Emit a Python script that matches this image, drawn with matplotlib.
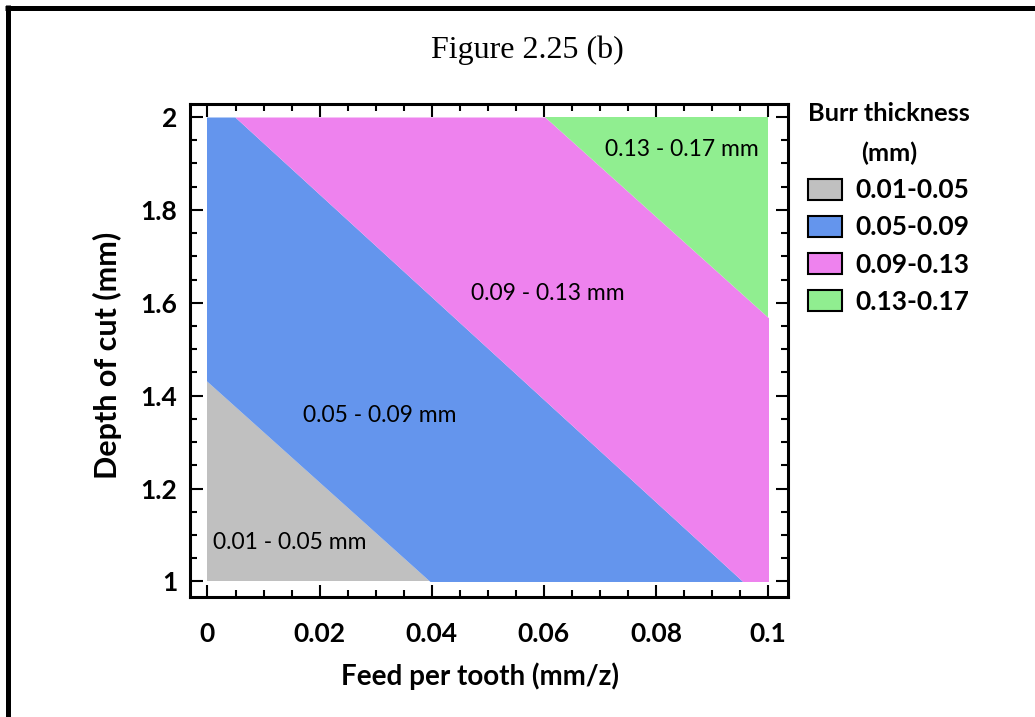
import matplotlib
matplotlib.use("Agg")
import matplotlib.pyplot as plt
from matplotlib.patches import Patch, Rectangle
from matplotlib.lines import Line2D
from matplotlib.ticker import MultipleLocator

# ---------------- data ----------------
depth_mm = [1.0, 2.0]                       # depth of cut range (y)
feed_range = [0.0, 0.1]                     # feed per tooth range (x)
# feed value where each class boundary crosses depth 1.0 and 2.0 mm
boundary_005 = [0.0397, -0.0526]
boundary_009 = [0.0955, 0.0049]
boundary_013 = [0.1525, 0.0602]
class_labels = ["0.01-0.05", "0.05-0.09", "0.09-0.13", "0.13-0.17"]
region_texts = ["0.01 - 0.05 mm", "0.05 - 0.09 mm", "0.09 - 0.13 mm", "0.13 - 0.17 mm"]
region_text_feed = [0.0147, 0.0308, 0.0607, 0.0847]
region_text_depth = [1.083, 1.358, 1.621, 1.929]
colors = ["#C0C0C0", "#6495ED", "#EE82EE", "#90EE90"]
x_ticks = [0, 0.02, 0.04, 0.06, 0.08, 0.1]
x_tick_labels = ["0", "0.02", "0.04", "0.06", "0.08", "0.1"]
y_ticks = [1, 1.2, 1.4, 1.6, 1.8, 2]
y_tick_labels = ["1", "1.2", "1.4", "1.6", "1.8", "2"]

SANS = ["Lato", "DejaVu Sans"]

fig = plt.figure(figsize=(10.35, 7.17), dpi=100)
ax = fig.add_axes([190 / 1035, 1 - 597 / 717, 598 / 1035, 493 / 717])
ax.set_xlim(-0.00312, 0.10357)
ax.set_ylim(0.9666, 2.028)

clip = Rectangle((feed_range[0], depth_mm[0]), feed_range[1] - feed_range[0],
                 depth_mm[1] - depth_mm[0], transform=ax.transData)
far_left = [-1.0, -1.0]
far_right = [1.0, 1.0]
edges = [far_left, boundary_005, boundary_009, boundary_013, far_right]
for i, c in enumerate(colors):
    poly = ax.fill_betweenx(depth_mm, edges[i], edges[i + 1], color=c, lw=0)
    poly.set_clip_path(clip)

for t, xf, yd in zip(region_texts, region_text_feed, region_text_depth):
    ax.text(xf, yd, t, ha="center", va="center", fontsize=16.5, family=SANS)

ax.set_xticks(x_ticks)
ax.set_xticklabels(x_tick_labels)
ax.set_yticks(y_ticks)
ax.set_yticklabels(y_tick_labels)
ax.xaxis.set_minor_locator(MultipleLocator(0.005))
ax.yaxis.set_minor_locator(MultipleLocator(0.05))
ax.tick_params(which="both", direction="in", top=True, right=True, width=1.5, color="black")
ax.tick_params(which="major", length=9)
ax.tick_params(which="minor", length=5)
ax.tick_params(axis="x", which="major", pad=18)
ax.tick_params(axis="y", which="major", pad=9)
for lab in ax.get_xticklabels() + ax.get_yticklabels():
    lab.set_family(SANS)
    lab.set_fontweight("bold")
    lab.set_fontsize(19)
for s in ax.spines.values():
    s.set_linewidth(2.2)

ax.set_xlabel("Feed per tooth (mm/z)", family=SANS, fontweight="bold", fontsize=20, va="center")
ax.xaxis.set_label_coords(0.485, -0.160)
ax.set_ylabel("Depth of cut (mm)", family=SANS, fontweight="bold", fontsize=22, va="center")
ax.yaxis.set_label_coords(-0.1388, 0.491)

fig.text(527 / 1035, 1 - 58 / 717, "Figure 2.25 (b)", ha="center", va="baseline",
         family=["Liberation Serif", "DejaVu Serif"], fontsize=23)

handles = [Patch(facecolor=c, edgecolor="black", linewidth=1.5, label=l)
           for c, l in zip(colors, class_labels)]
leg = fig.legend(handles=handles, title="Burr thickness\n(mm)", loc="upper left",
                 bbox_to_anchor=(808 / 1035, 1 - 102 / 717), frameon=False, borderpad=0,
                 borderaxespad=0,
                 prop={"family": SANS, "weight": "bold", "size": 19},
                 title_fontproperties={"family": SANS, "weight": "bold", "size": 18.3},
                 handlelength=1.3, handleheight=0.85, labelspacing=0.5, handletextpad=0.5)
leg.get_title().set_multialignment("center")
leg.get_title().set_linespacing(1.85)

# outer frame (top and left edges)
fig.add_artist(Line2D([5 / 1035, 1.0], [1 - 7.5 / 717, 1 - 7.5 / 717], color="black", lw=3.6,
                      transform=fig.transFigure, solid_capstyle="butt"))
fig.add_artist(Line2D([7.5 / 1035, 7.5 / 1035], [1 - 5 / 717, 0.0], color="black", lw=3.6,
                      transform=fig.transFigure, solid_capstyle="butt"))

fig.savefig("out.png", dpi=100)
